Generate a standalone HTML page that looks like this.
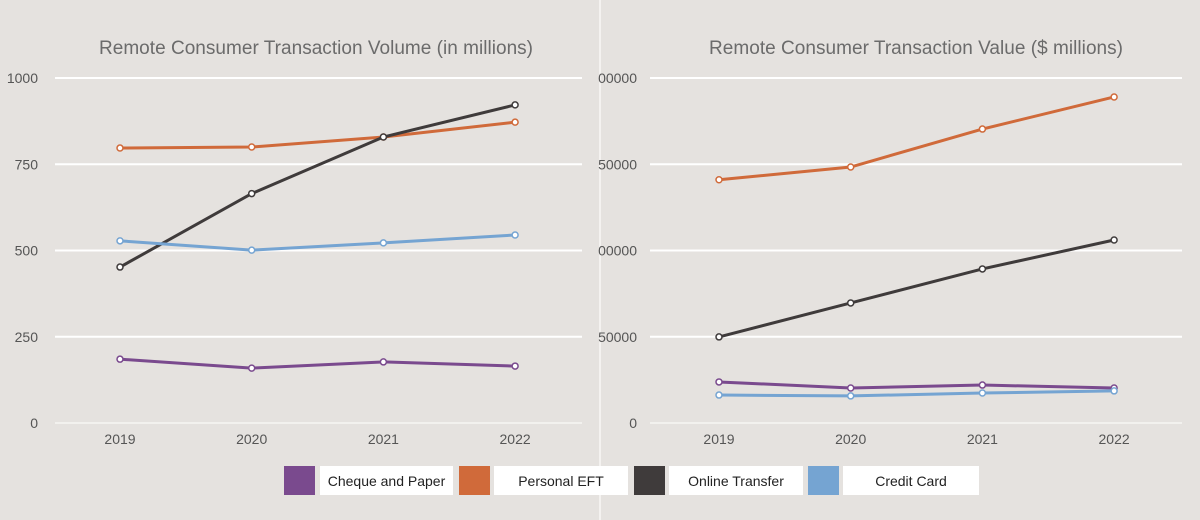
<!DOCTYPE html>
<html><head><meta charset="utf-8"><style>
html,body{margin:0;padding:0;background:#e5e2df;}
svg{display:block;font-family:"Liberation Sans",sans-serif;}
</style></head><body>
<svg id="c" width="1200" height="520">
<rect width="1200" height="520" fill="#e5e2df"/>
<line x1="600" y1="0" x2="600" y2="520" stroke="#f4f2f0" stroke-width="2"/>
<text x="316" y="54" text-anchor="middle" font-size="19" fill="#6b6b6b" textLength="434">Remote Consumer Transaction Volume (in millions)</text>
<text x="916" y="54" text-anchor="middle" font-size="19" fill="#6b6b6b" textLength="414">Remote Consumer Transaction Value ($ millions)</text>
<g id="legend"></g>
</svg>
<script>
const years=["2019","2020","2021","2022"];
const seriesNames=["Cheque and Paper","Personal EFT","Online Transfer","Credit Card"];
const colors=["#7a4a8e","#d06a3a","#3f3b3b","#75a4d2"];
const volCheque=[185,159,177,165];
const volEFT=[797,800,829,872];
const volOnline=[452,665,829,922];
const volCredit=[528,501,522,545];
const valCheque=[23800,20300,22000,20300];
const valEFT=[141000,148400,170400,189000];
const valOnline=[49900,69600,89300,106100];
const valCredit=[16200,15700,17400,18600];
const volTicks=[0,250,500,750,1000];
const valTicks=[0,50000,100000,150000,200000];
const valTickLabels=["0","50000","00000","50000","00000"];

const NS="http://www.w3.org/2000/svg";
const svg=document.getElementById('c');
function mk(tag,attrs,parent){const e=document.createElementNS(NS,tag);for(const k in attrs)e.setAttribute(k,attrs[k]);(parent||svg).appendChild(e);return e;}

function drawChart(prefix,x0,x1,xFirst,xStep,labelX,labelAnchor,ticks,tickLabels,max,series){
  const yTop=78,yBot=423;
  const y=v=>yBot-(v/max)*(yBot-yTop);
  const x=i=>xFirst+i*xStep;
  ticks.forEach((t,i)=>{
    const l=mk('line',{x1:x0,x2:x1,y1:y(t),y2:y(t),stroke:t===0?'#f7f6f4':'#ffffff','stroke-width':t===0?1.5:2});
    
    
    const tx=mk('text',{x:labelX,y:y(t)+5,'text-anchor':labelAnchor,'font-size':14,fill:'#555'});
    tx.textContent=tickLabels[i];
    
    
  });
  years.forEach((yr,i)=>{
    const tx=mk('text',{x:x(i),y:444,'text-anchor':'middle','font-size':14,fill:'#555'});
    tx.textContent=yr;
    
    
  });
  series.forEach((vals,s)=>{
    const p=mk('polyline',{points:vals.map((v,i)=>x(i)+','+y(v)).join(' '),fill:'none',stroke:colors[s],'stroke-width':3});
    
    
    vals.forEach((v,i)=>{
      const c=mk('circle',{cx:x(i),cy:y(v),r:3,fill:'#fff',stroke:colors[s],'stroke-width':1.5});
      
      
    });
  });
}
drawChart('volume',55,582,120,131.7,38,'end',volTicks,volTicks.map(String),1000,[volCheque,volEFT,volOnline,volCredit]);
drawChart('value',650,1182,719,131.7,637,'end',valTicks,valTickLabels,200000,[valCheque,valEFT,valOnline,valCredit]);

const lg=document.getElementById('legend');
const sw=[284,459,634,808], lbx=[320,494,669,843], lbw=[133,134,134,136];
seriesNames.forEach((n,i)=>{
  const r=mk('rect',{x:sw[i],y:466,width:31,height:29,fill:colors[i]},lg);
  
  
  const b=mk('rect',{x:lbx[i],y:466,width:lbw[i],height:29,fill:'#fff'},lg);
  
  
  const t=mk('text',{x:lbx[i]+lbw[i]/2,y:486,'text-anchor':'middle','font-size':14,fill:'#222'},lg);
  t.textContent=n;
  
  
});
</script>
</body></html>
